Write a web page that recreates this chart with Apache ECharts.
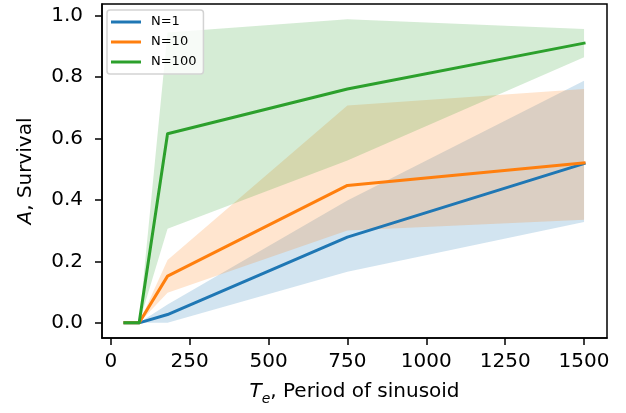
<!DOCTYPE html>
<html>
<head>
<meta charset="utf-8">
<script src="https://cdn.jsdelivr.net/npm/echarts@6/dist/echarts.min.js"></script>
<style>
html,body{margin:0;padding:0;background:#fff;}
#chart{width:626px;height:413px;}
</style>
</head>
<body>
<div id="chart"></div>
<script>
// Data
const periods = [45, 90, 180, 750, 1500];
const seriesNames = ['N=1', 'N=10', 'N=100'];
const meanN1 = [0, 0, 0.027, 0.279, 0.518];
const meanN10 = [0, 0, 0.152, 0.447, 0.520];
const meanN100 = [0, 0, 0.615, 0.761, 0.910];
const lowN1 = [0, 0, 0, 0.166, 0.328];
const highN1 = [0, 0, 0.060, 0.398, 0.788];
const lowN10 = [0, 0, 0.098, 0.300, 0.335];
const highN10 = [0, 0, 0.204, 0.707, 0.761];
const lowN100 = [0, 0, 0.306, 0.528, 0.864];
const highN100 = [0, 0, 0.945, 0.988, 0.956];
const xTicks = [0, 250, 500, 750, 1000, 1250, 1500];
const yTicks = [0, 0.2, 0.4, 0.6, 0.8, 1.0];

const colors = ['#1f77b4', '#ff7f0e', '#2ca02c'];
const fills = ['rgba(31,119,180,0.2)', 'rgba(255,127,14,0.2)', 'rgba(44,160,44,0.2)'];
const means = [meanN1, meanN10, meanN100];
const lows = [lowN1, lowN10, lowN100];
const highs = [highN1, highN10, highN100];
const FONT = 'DejaVu Sans';

function band(i) {
  return {
    type: 'custom',
    coordinateSystem: 'cartesian2d',
    silent: true,
    z: 1,
    clip: false,
    data: [[periods[0], lows[i][0]]],
    renderItem: function (params, api) {
      const pts = [];
      for (let k = 0; k < periods.length; k++) pts.push(api.coord([periods[k], highs[i][k]]));
      for (let k = periods.length - 1; k >= 0; k--) pts.push(api.coord([periods[k], lows[i][k]]));
      return { type: 'polygon', shape: { points: pts }, style: { fill: fills[i], stroke: null } };
    }
  };
}
function line(i) {
  return {
    name: seriesNames[i],
    type: 'line',
    z: 5,
    symbol: 'none',
    animation: false,
    color: colors[i],
    lineStyle: { width: 3, color: colors[i], join: 'round', cap: 'square' },
    data: periods.map((p, k) => [p, means[i][k]])
  };
}

const chart = echarts.init(document.getElementById('chart'), null, { renderer: 'canvas' });
chart.setOption({
  animation: false,
  backgroundColor: '#fff',
  grid: { left: 102, right: 19, top: 4, bottom: 75, show: true, borderColor: '#000', borderWidth: 1.5, backgroundColor: 'transparent' },
  legend: {
    orient: 'vertical',
    left: 107, top: 10,
    padding: [5, 7, 5, 4],
    itemGap: 6,
    itemWidth: 30, itemHeight: 3,
    icon: 'rect',
    backgroundColor: 'rgba(255,255,255,0.8)',
    borderColor: '#d3d3d3', borderWidth: 1.5, borderRadius: 3,
    textStyle: { fontFamily: FONT, fontSize: 13, color: '#000', lineHeight: 14, padding: [0, 0, 0, 5] },
    data: seriesNames
  },
  xAxis: {
    type: 'value',
    min: -27.75, max: 1572.75,
    name: '{i|T}{s|e}{n|, Period of sinusoid}',
    nameLocation: 'middle',
    nameGap: 40,
    nameTextStyle: {
      color: '#000', fontFamily: FONT, fontSize: 20,
      rich: {
        i: { fontFamily: FONT, fontSize: 20, fontStyle: 'italic', color: '#000', lineHeight: 24, verticalAlign: 'bottom' },
        s: { fontFamily: FONT, fontSize: 14, fontStyle: 'italic', color: '#000', lineHeight: 18, verticalAlign: 'bottom', padding: [0, 0, -4, 0] },
        n: { fontFamily: FONT, fontSize: 20, color: '#000', lineHeight: 24, verticalAlign: 'bottom' }
      }
    },
    splitLine: { show: false },
    axisLine: { show: true, onZero: false, lineStyle: { color: '#000', width: 1.5 } },
    axisTick: { show: true, inside: false, length: 7, customValues: xTicks, lineStyle: { color: '#000', width: 1.5 } },
    axisLabel: { customValues: xTicks, color: '#000', fontFamily: FONT, fontSize: 20, margin: 14, formatter: v => String(v) }
  },
  yAxis: {
    type: 'value',
    min: -0.0494, max: 1.0374,
    name: '{i|A}{n|, Survival}',
    nameLocation: 'middle',
    nameRotate: 90,
    nameGap: 66,
    nameTextStyle: {
      color: '#000', fontFamily: FONT, fontSize: 20,
      rich: {
        i: { fontFamily: FONT, fontSize: 20, fontStyle: 'italic', color: '#000' },
        n: { fontFamily: FONT, fontSize: 20, color: '#000' }
      }
    },
    splitLine: { show: false },
    axisLine: { show: true, onZero: false, lineStyle: { color: '#000', width: 1.5 } },
    axisTick: { show: true, inside: false, length: 7, customValues: yTicks, lineStyle: { color: '#000', width: 1.5 } },
    axisLabel: { customValues: yTicks, color: '#000', fontFamily: FONT, fontSize: 20, margin: 19, formatter: v => v.toFixed(1) }
  },
  series: [band(0), line(0), band(1), line(1), band(2), line(2)]
});
</script>
</body>
</html>
